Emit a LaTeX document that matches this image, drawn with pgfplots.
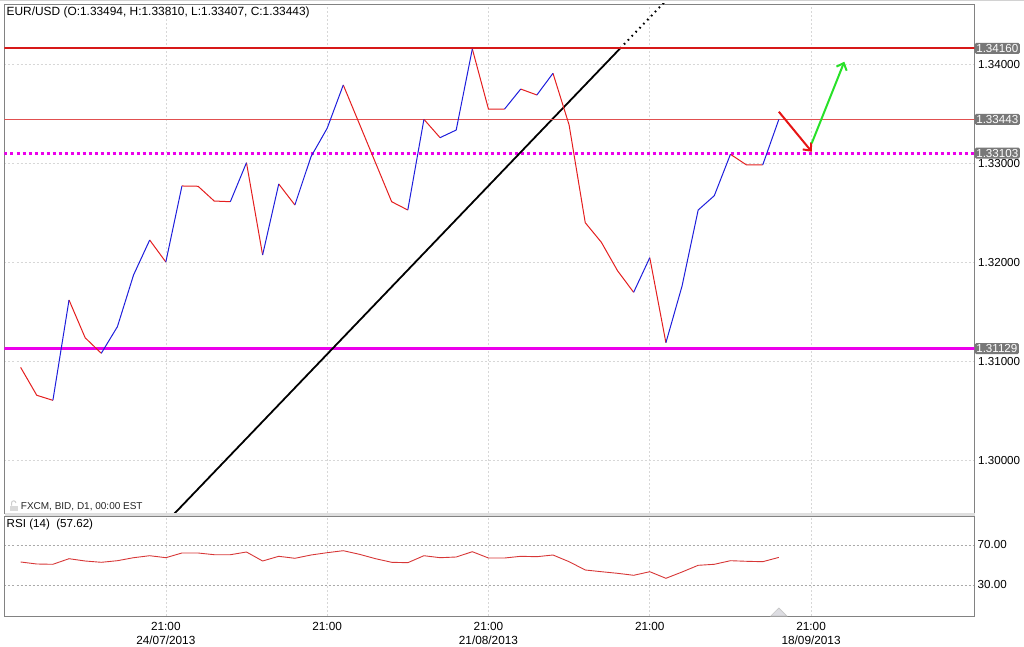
\documentclass[border=0pt]{standalone}
\usepackage{pgfplots}
\pgfplotsset{compat=1.18}
\usepackage{fontspec}
\setmainfont{Liberation Sans}
\usetikzlibrary{arrows.meta}
\definecolor{upblue}{RGB}{30,30,220}
\definecolor{dnred}{RGB}{228,30,30}
\definecolor{resred}{RGB}{215,25,25}
\definecolor{lastred}{RGB}{225,80,80}
\definecolor{mag}{RGB}{235,0,235}
\definecolor{arrgreen}{RGB}{40,225,40}
\definecolor{arrred}{RGB}{230,20,20}
\definecolor{framegray}{RGB}{130,130,130}
\definecolor{gridgray}{RGB}{215,215,215}
\definecolor{rsigrid}{RGB}{170,170,170}
\definecolor{boxgray}{RGB}{120,120,120}
\definecolor{rsired}{RGB}{215,55,55}

\pgfplotstableread{
x y
0 53
1 51
2 50.7
3 56.3
4 54
5 52.7
6 54.3
7 57.3
8 59.3
9 57.3
10 62
11 62
12 60.3
13 60.3
14 63
15 54
16 58.7
17 56.7
18 60
19 62.3
20 64.3
21 60.7
22 56.3
23 52.7
24 52.3
25 59.3
26 57.3
27 58
28 63.3
29 57
30 57
31 58.7
32 58.3
33 60
34 53.3
35 45
36 43.3
37 41.7
38 39.7
39 43.3
40 36.7
41 43
42 49.7
43 50.7
44 54.3
45 53.7
46 53.3
47 57.6
}\rsi

\begin{document}
\begin{tikzpicture}[x=1pt,y=1pt]
\useasboundingbox (0,0) rectangle (1024,646);
\draw[gray!35] (0,645.5) -- (1024,645.5);
\begin{axis}[
  at={(4.5pt,133pt)}, anchor=south west,
  width=970pt, height=509pt, scale only axis,
  xmin=-1, xmax=59.13, ymin=1.29468, ymax=1.34609,
  axis line style={framegray, line width=0.8pt},
  xtick={9,19,29,39,49}, xticklabels={},
  ytick={1.30,1.31,1.32,1.33,1.34},
  yticklabel pos=right,
  major tick length=0pt,
  grid=major,
  grid style={gridgray, dash pattern=on 2pt off 2pt, line width=0.6pt},
  /pgf/number format/assume math mode=true,
  yticklabel style={/pgf/number format/.cd, fixed, fixed zerofill, precision=5, /tikz/.cd,
     font=\fontsize{11.6}{13}\selectfont, anchor=west, inner xsep=3.5pt},
  unbounded coords=jump,
  clip=true,
]
% horizontal levels
\addplot[mag, line width=3pt, dash pattern=on 3pt off 3pt] coordinates {(-1,1.33103) (59.13,1.33103)};
\addplot[mag, line width=2.2pt] coordinates {(-1,1.31129) (59.13,1.31129)};
% trend line
\addplot[black, line width=1.8pt] coordinates {(5,1.28691) (37.16,1.3416)};
\addplot[black, line width=2pt, dash pattern=on 1.6pt off 4pt] coordinates {(37.16,1.3416) (41,1.34813)};
\addplot[resred, line width=2pt] coordinates {(-1,1.3416) (59.13,1.3416)};
\addplot[lastred, line width=1pt] coordinates {(-1,1.33443) (59.13,1.33443)};
% price line: falling (red) and rising (blue) runs of the daily closes
\addplot[dnred, line width=1pt] coordinates {
(0,1.30939)(1,1.30657)(2,1.30606)(2.5,nan)
(3,1.31619)(4,1.31238)(5,1.31081)(5.5,nan)
(8,1.32225)(9,1.32003)(9.5,nan)
(10,1.32771)(11,1.32768)(12,1.32619)(13,1.32612)(13.5,nan)
(14,1.33006)(15,1.32074)(15.5,nan)
(16,1.32791)(17,1.32579)(17.5,nan)
(20,1.33791)(21,1.33398)(22,1.33005)(23,1.32612)(24,1.32528)(24.5,nan)
(25,1.33444)(26,1.33259)(26.5,nan)
(28,1.34155)(29,1.33548)(30,1.33548)(30.5,nan)
(31,1.33750)(32,1.33690)(32.5,nan)
(33,1.33909)(34,1.33387)(35,1.32400)(36,1.32202)(37,1.31915)(38,1.31697)(38.5,nan)
(39,1.32047)(40,1.31188)(40.5,nan)
(44,1.33091)(45,1.32983)(46,1.32983)};
\addplot[upblue, line width=1pt] coordinates {
(2,1.30606)(3,1.31619)(3.5,nan)
(5,1.31081)(6,1.31350)(7,1.31872)(8,1.32225)(8.5,nan)
(9,1.32003)(10,1.32771)(10.5,nan)
(13,1.32612)(14,1.33006)(14.5,nan)
(15,1.32074)(16,1.32791)(16.5,nan)
(17,1.32579)(18,1.33067)(19,1.33353)(20,1.33791)(20.5,nan)
(24,1.32528)(25,1.33444)(25.5,nan)
(26,1.33259)(27,1.33336)(28,1.34155)(28.5,nan)
(30,1.33548)(31,1.33750)(31.5,nan)
(32,1.33690)(33,1.33909)(33.5,nan)
(38,1.31697)(39,1.32047)(39.5,nan)
(40,1.31188)(41,1.31760)(42,1.32528)(43,1.32673)(44,1.33091)(44.5,nan)
(46,1.32983)(47,1.33443)};
% arrows
\addplot[arrred, line width=2pt, -{Straight Barb[length=6pt,width=11pt,line width=2pt]}] coordinates {(47.0,1.33521) (49.04,1.33117)};
\addplot[arrgreen, line width=2pt, -{Straight Barb[length=6pt,width=11pt,line width=2pt]}] coordinates {(49.04,1.33202) (51.06,1.34026)};
\coordinate (L1) at (axis cs:59.13,1.3416);
\coordinate (L2) at (axis cs:59.13,1.33443);
\coordinate (L3) at (axis cs:59.13,1.33103);
\coordinate (L4) at (axis cs:59.13,1.31129);
\end{axis}
\tikzset{pricebox/.style={anchor=west, fill=boxgray, text=white, rounded corners=1.5pt,
   inner xsep=1.6pt, inner ysep=1.4pt, font=\fontsize{11.6}{13}\selectfont}}
\node[pricebox] at (L1) {1.34160};
\node[pricebox] at (L2) {1.33443};
\node[pricebox] at (L3) {1.33103};
\node[pricebox] at (L4) {1.31129};

\begin{axis}[
  at={(4.5pt,30pt)}, anchor=south west,
  width=970pt, height=100pt, scale only axis,
  xmin=-1, xmax=59.13, ymin=-1, ymax=99,
  axis line style={framegray, line width=0.8pt},
  xtick={9,19,29,39,49},
  xticklabels={{21:00\\24/07/2013},{21:00},{21:00\\21/08/2013},{21:00},{21:00\\18/09/2013}},
  xticklabel style={align=center, font=\fontsize{11.8}{14.5}\selectfont, anchor=north, inner sep=3pt, yshift=-3pt},
  ytick={30,70}, yticklabels={30.00,70.00},
  yticklabel pos=right,
  yticklabel style={font=\fontsize{11.6}{13}\selectfont, anchor=west, inner xsep=3pt},
  major tick length=0pt,
  xmajorgrids, ymajorgrids,
  x grid style={gridgray, dash pattern=on 2pt off 2pt, line width=0.6pt},
  y grid style={rsigrid, dash pattern=on 2pt off 2pt, line width=0.6pt},
]
\addplot[rsired, line width=0.9pt] table[x=x,y=y] {\rsi};
\addplot[fill=blue!8!gray!25, draw=gray!45, line width=0.6pt] coordinates {(46.5,-1) (47,7) (47.5,-1)} -- cycle;
\end{axis}
% gap between panels
\fill[gray!25] (4.5,130.4) rectangle (974.5,132.6);
% texts
\node[anchor=west, inner sep=0pt, font=\fontsize{11.9}{14}\selectfont] at (6.5,633.5) {EUR/USD (O:1.33494, H:1.33810, L:1.33407, C:1.33443)};
\node[anchor=west, inner sep=0pt, font=\fontsize{11.6}{14}\selectfont] at (6.5,122) {RSI (14)\ \ (57.62)};
\node[anchor=west, inner sep=0pt, font=\fontsize{10}{12}\selectfont, text=black!85] at (20.7,139.5) {FXCM, BID, D1, 00:00 EST};
% lock icon
\fill[gray!30] (10,135) rectangle (18,140.5);
\draw[gray!40, line width=1pt] (11.5,140.5) -- (11.5,143) arc (180:0:2.2);
\end{tikzpicture}
\end{document}
